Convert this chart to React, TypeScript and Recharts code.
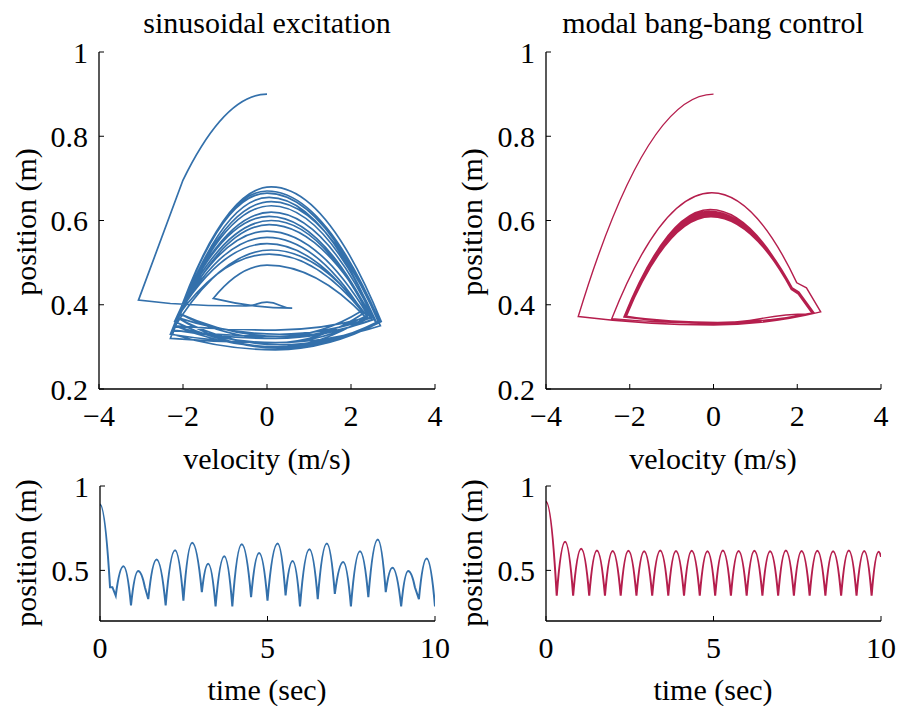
import { LineChart, Line, XAxis, YAxis } from 'recharts';

const BLUE = '#3370ab';
const RED = '#b51e4d';
const FONT = '"Liberation Serif", "Times New Roman", serif';
const FONT_SIZE = 30;

const velocityTicks = [-4, -2, 0, 2, 4];
const phaseTicks = [0.2, 0.4, 0.6, 0.8, 1];
const timeTicks = [0, 5, 10];
const timePosTicks = [0.5, 1];

// [velocity, position] -- drop from rest, first impact, small wobble
const sinPhaseTransient: [number, number][] = [
  [0, 0.9], [-2.0, 0.696], [-3.06, 0.411], [-2.3, 0.403], [-0.5, 0.397],
  [0, 0.406], [0.6, 0.392], [-1.28, 0.415], [0, 0.494], [2.35, 0.37], [0.2, 0.3],
];

// each loop: left end, apex, right end, bottom of contact phase
const sinPhaseLoops: [number, number][] = [
  [-2.2, 0.35], [0.1, 0.68], [2.72, 0.36], [0.2, 0.293],
  [-2.25, 0.33], [0.05, 0.655], [2.6, 0.355], [0.3, 0.305],
  [-2.15, 0.37], [0.1, 0.6], [2.45, 0.37], [0.2, 0.31],
  [-2.3, 0.32], [0, 0.665], [2.65, 0.36], [0.25, 0.3],
  [-2.2, 0.36], [0.1, 0.62], [2.55, 0.365], [0.3, 0.325],
  [-2.1, 0.38], [0, 0.575], [2.4, 0.375], [0.2, 0.32],
  [-2.25, 0.34], [0.1, 0.645], [2.7, 0.35], [0.2, 0.31],
  [-2.2, 0.35], [0.05, 0.59], [2.5, 0.37], [0.3, 0.33],
  [-2.15, 0.37], [0, 0.56], [2.3, 0.38], [0.2, 0.31],
  [-2.3, 0.33], [0.1, 0.635], [2.62, 0.355], [0.25, 0.3],
  [-2.2, 0.36], [0.05, 0.61], [2.5, 0.365], [0.2, 0.32],
  [-2.1, 0.38], [0, 0.545], [2.25, 0.385], [0.3, 0.325],
  [-2.25, 0.34], [0.1, 0.53], [2.4, 0.37], [0.2, 0.34],
  [-2.2, 0.35], [0, 0.67], [2.68, 0.36], [0.25, 0.297],
  [-2.15, 0.37], [0.05, 0.52], [2.3, 0.38],
];

const bangPhaseTransient: [number, number][] = [
  [0, 0.9], [-3.23, 0.372], [0, 0.352], [2.56, 0.383], [2.22, 0.44], [1.99, 0.452],
  [-0.04, 0.666], [-2.43, 0.367], [0, 0.356], [2.36, 0.379], [2.02, 0.428], [1.86, 0.44],
  [-0.08, 0.626], [-2.12, 0.372],
];

// each loop: bottom, right end, notch (2 pts), apex, left end
const bangPhaseLoops: [number, number][] = [
  [0, 0.356], [2.38, 0.38], [2.03, 0.428], [1.87, 0.438], [-0.1, 0.618], [-2.11, 0.372],
  [0.1, 0.358], [2.36, 0.379], [2.02, 0.426], [1.86, 0.436], [-0.08, 0.612], [-2.08, 0.373],
  [0, 0.355], [2.4, 0.381], [2.04, 0.43], [1.88, 0.44], [-0.1, 0.622], [-2.14, 0.371],
  [0.05, 0.357], [2.37, 0.38], [2.02, 0.427], [1.86, 0.437], [-0.06, 0.609], [-2.09, 0.372],
  [0, 0.356], [2.39, 0.381], [2.03, 0.429], [1.87, 0.439], [-0.1, 0.616], [-2.12, 0.372],
  [0.05, 0.358], [2.37, 0.379], [2.02, 0.427], [1.86, 0.436], [-0.08, 0.613], [-2.1, 0.373],
  [0, 0.355], [2.38, 0.38], [2.03, 0.428], [1.87, 0.438], [-0.1, 0.62], [-2.13, 0.371],
  [0, 0.357], [2.3, 0.378],
];

// [time, position] peaks and impacts
const sinTimeline: [number, number][] = [
  [0, 0.89], [0.3, 0.4], [0.37, 0.4], [0.47, 0.35], [0.7, 0.524], [0.925, 0.292],
  [1.14, 0.496], [1.34, 0.4], [1.44, 0.33], [1.69, 0.565], [1.96, 0.292], [2.24, 0.619],
  [2.49, 0.32], [2.75, 0.663], [3.04, 0.371], [3.23, 0.54], [3.45, 0.286], [3.71, 0.583],
  [3.95, 0.286], [4.23, 0.655], [4.51, 0.341], [4.75, 0.603], [5.0, 0.32], [5.3, 0.659],
  [5.54, 0.351], [5.75, 0.555], [5.97, 0.286], [6.25, 0.625], [6.5, 0.33], [6.77, 0.659],
  [7.01, 0.361], [7.26, 0.55], [7.49, 0.286], [7.76, 0.613], [8.01, 0.341], [8.29, 0.683],
  [8.53, 0.371], [8.73, 0.516], [8.99, 0.286], [9.2, 0.496], [9.4, 0.4], [9.52, 0.33],
  [9.75, 0.57], [10, 0.286],
];

const bangTimeline: [number, number][] = [
  [0, 0.907], [0.32, 0.35], [0.57, 0.669], [0.81, 0.35], [1.05, 0.628], [1.29, 0.35],
  [1.52, 0.618], [1.76, 0.35], [1.99, 0.615], [2.23, 0.35], [2.46, 0.617], [2.7, 0.35],
  [2.93, 0.614], [3.17, 0.35], [3.41, 0.618], [3.65, 0.35], [3.88, 0.615], [4.12, 0.35],
  [4.35, 0.617], [4.59, 0.35], [4.82, 0.614], [5.05, 0.35], [5.28, 0.618], [5.52, 0.35],
  [5.75, 0.615], [5.99, 0.35], [6.22, 0.617], [6.46, 0.35], [6.69, 0.614], [6.93, 0.35],
  [7.16, 0.618], [7.4, 0.35], [7.63, 0.615], [7.87, 0.35], [8.1, 0.617], [8.34, 0.35],
  [8.57, 0.614], [8.81, 0.35], [9.04, 0.618], [9.27, 0.35], [9.5, 0.615], [9.72, 0.35],
  [9.93, 0.61], [10, 0.58],
];

const toRows = (pts: [number, number][]) => pts.map(([x, y]) => ({ x, y }));

// flight arcs are parabolas with a level tangent at the apex (and at the
// bottom of the contact phase for the phase portraits); other joins are corners
function arcCurve(flatMin: boolean) {
  return (ctx: any) => {
    let pts: number[][] = [];
    return {
      areaStart() {},
      areaEnd() {},
      lineStart() { pts = []; },
      point(x: number, y: number) { pts.push([+x, +y]); },
      lineEnd() {
        const n = pts.length;
        if (!n) return;
        const flat = pts.map((q, i) => {
          const a = pts[i - 1];
          const b = pts[i + 1];
          const top = (!a || a[1] > q[1]) && (!b || b[1] > q[1]);
          const bottom = !!a && !!b && a[1] < q[1] && b[1] < q[1];
          return top || (flatMin && bottom);
        });
        ctx.moveTo(pts[0][0], pts[0][1]);
        for (let i = 1; i < n; i++) {
          const [x0, y0] = pts[i - 1];
          const [x1, y1] = pts[i];
          const mx = (x0 + x1) / 2;
          if (flat[i - 1] && flat[i]) ctx.bezierCurveTo(mx, y0, mx, y1, x1, y1);
          else if (flat[i - 1]) ctx.quadraticCurveTo(mx, y0, x1, y1);
          else if (flat[i]) ctx.quadraticCurveTo(mx, y1, x1, y1);
          else ctx.lineTo(x1, y1);
        }
      },
    };
  };
}

const phaseCurve = arcCurve(true);
const timeCurve = arcCurve(false);

const fmt = (v: number) => String(v).replace('-', '\u2212');
const tickStyle = { fill: '#000', fontSize: FONT_SIZE, fontFamily: FONT };
const axisLine = { stroke: '#000', strokeWidth: 1.3 };

function Panel({ left, top, plotW, plotH, data, xDomain, xTicks, yDomain, yTicks, color, curve, strokeWidth }: any) {
  const yw = 99;
  return (
    <div style={{ position: 'absolute', left, top }}>
      <LineChart
        width={yw + plotW + 24}
        height={52 + plotH + 50}
        data={data}
        margin={{ top: 52, right: 24, bottom: 0, left: 0 }}
      >
        <XAxis
          type="number"
          dataKey="x"
          domain={xDomain}
          ticks={xTicks}
          interval={0}
          allowDataOverflow
          height={50}
          axisLine={axisLine}
          tickLine={{ stroke: '#000' }}
          tickSize={-5}
          tickMargin={21}
          tick={tickStyle}
          tickFormatter={fmt}
        />
        <YAxis
          type="number"
          domain={yDomain}
          ticks={yTicks}
          interval={0}
          allowDataOverflow
          width={yw}
          axisLine={axisLine}
          tickLine={{ stroke: '#000' }}
          tickSize={-5}
          tickMargin={16}
          tick={tickStyle}
          tickFormatter={fmt}
        />
        <Line
          dataKey="y"
          type={curve}
          stroke={color}
          strokeWidth={strokeWidth}
          dot={false}
          activeDot={false}
          isAnimationActive={false}
        />
      </LineChart>
    </div>
  );
}

function Label({ x, y, text, rotate }: { x: number; y: number; text: string; rotate?: boolean }) {
  return (
    <div
      style={{
        position: 'absolute',
        left: x,
        top: y,
        transform: `translate(-50%, -50%)${rotate ? ' rotate(-90deg)' : ''}`,
        whiteSpace: 'nowrap',
        fontFamily: FONT,
        fontSize: FONT_SIZE,
        color: '#000',
        lineHeight: 1,
      }}
    >
      {text}
    </div>
  );
}

export default function App() {
  const sinPhase = toRows([...sinPhaseTransient, ...sinPhaseLoops]);
  const bangPhase = toRows([...bangPhaseTransient, ...bangPhaseLoops]);
  return (
    <div style={{ position: 'absolute', left: 0, top: 0, width: 901, height: 706, background: '#fff', overflow: 'hidden' }}>
      <Panel left={0} top={0} plotW={336} plotH={337} data={sinPhase} xDomain={[-4, 4]} xTicks={velocityTicks}
        yDomain={[0.2, 1]} yTicks={phaseTicks} color={BLUE} curve={phaseCurve} strokeWidth={1.7} />
      <Panel left={447} top={0} plotW={335} plotH={337} data={bangPhase} xDomain={[-4, 4]} xTicks={velocityTicks}
        yDomain={[0.2, 1]} yTicks={phaseTicks} color={RED} curve={phaseCurve} strokeWidth={1.4} />
      <Panel left={1} top={434} plotW={335} plotH={135} data={toRows(sinTimeline)} xDomain={[0, 10]} xTicks={timeTicks}
        yDomain={[0.2, 1]} yTicks={timePosTicks} color={BLUE} curve={timeCurve} strokeWidth={2} />
      <Panel left={447} top={434} plotW={335} plotH={135} data={toRows(bangTimeline)} xDomain={[0, 10]} xTicks={timeTicks}
        yDomain={[0.2, 1]} yTicks={timePosTicks} color={RED} curve={timeCurve} strokeWidth={2} />

      <Label x={267} y={23} text="sinusoidal excitation" />
      <Label x={713} y={23} text="modal bang-bang control" />
      <Label x={26} y={222} text="position (m)" rotate />
      <Label x={472} y={222} text="position (m)" rotate />
      <Label x={267} y={459} text="velocity (m/s)" />
      <Label x={713} y={459} text="velocity (m/s)" />
      <Label x={26} y={553} text="position (m)" rotate />
      <Label x={472} y={553} text="position (m)" rotate />
      <Label x={267} y={690} text="time (sec)" />
      <Label x={713} y={690} text="time (sec)" />
    </div>
  );
}
